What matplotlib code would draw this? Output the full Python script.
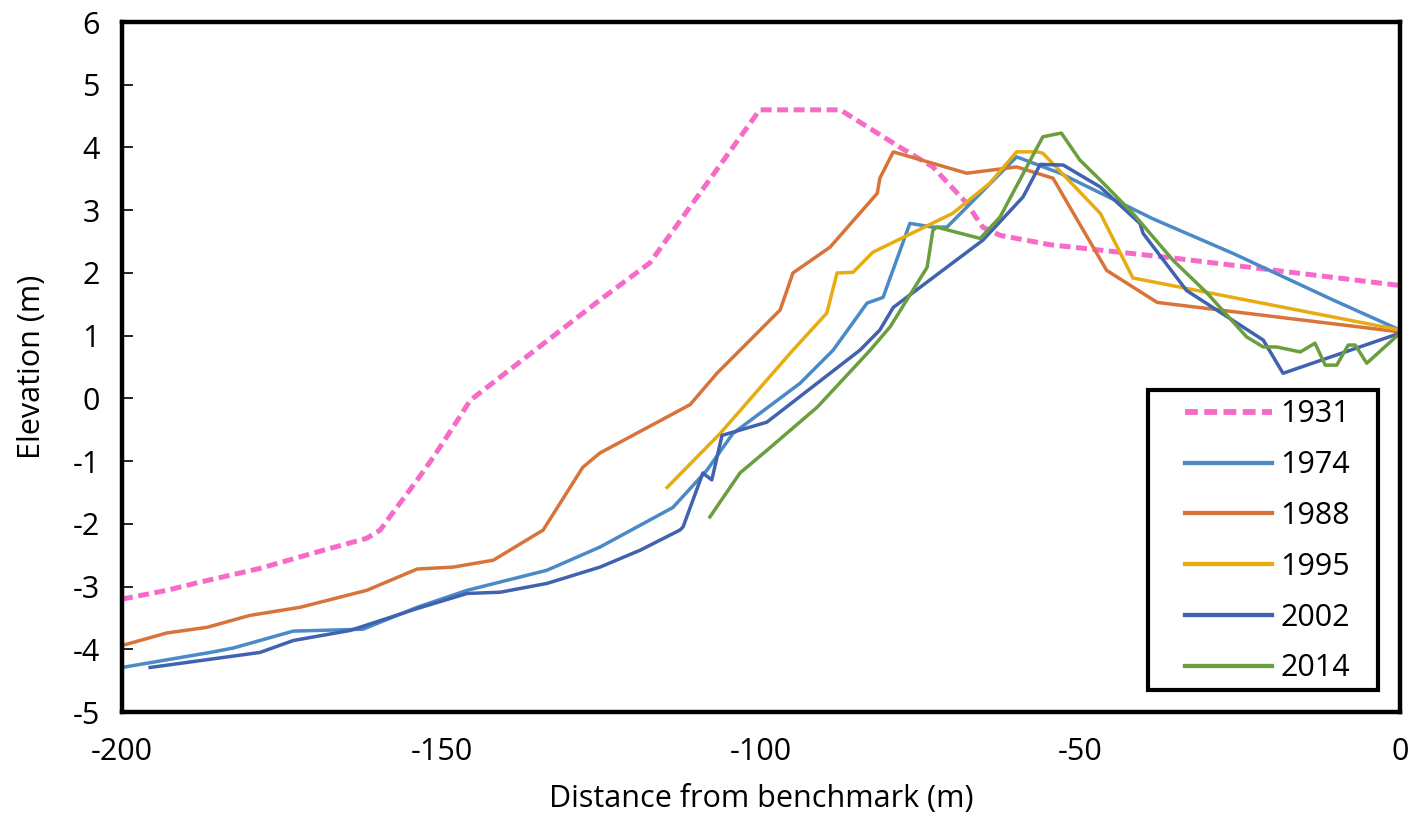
import matplotlib
matplotlib.use("Agg")
import matplotlib.pyplot as plt
from matplotlib.patches import Rectangle

plt.rcParams['font.family'] = ['Open Sans', 'DejaVu Sans']
plt.rcParams['axes.unicode_minus'] = False

years = ["1931", "1974", "1988", "1995", "2002", "2014"]
colors = ["#f76bc8", "#4a8ac6", "#d8733a", "#e6ac12", "#4062b0", "#6a9e3e"]

x_1931 = [-200, -193, -187.8, -178.4, -169.5, -161.7, -159.6, -158.1, -153.8, -151.3, -148.2, -145.5,
          -125.2, -117.4, -100.2, -87.6, -78.2, -73.1, -67.8, -65.3, -62.6, -54.8, -36.5, 0]
y_1931 = [-3.2, -3.06, -2.93, -2.71, -2.45, -2.23, -2.10, -1.89, -1.30, -0.94, -0.46, -0.03,
          1.57, 2.16, 4.6, 4.6, 4.0, 3.69, 3.11, 2.73, 2.6, 2.45, 2.25, 1.8]

x_1974 = [-200, -186.2, -182.6, -173.2, -162.3, -153.8, -146, -133.5, -125.2, -113.8, -108.5, -104.4,
          -100.2, -93.9, -88.7, -83.4, -80.9, -76.7, -73.1, -70.9, -60, -53.2, -38.6, -26.1, -10.5, 0]
y_1974 = [-4.29, -4.05, -3.98, -3.71, -3.68, -3.33, -3.06, -2.74, -2.37, -1.74, -1.15, -0.56,
          -0.24, 0.24, 0.77, 1.52, 1.61, 2.79, 2.73, 2.73, 3.85, 3.59, 2.86, 2.31, 1.57, 1.09]

x_1988 = [-200, -193, -186.7, -180, -172.1, -161.7, -153.8, -148.2, -141.9, -134.1, -127.9, -125.2,
          -111.1, -106.9, -97, -95, -89.2, -81.8, -81.4, -79.3, -67.8, -60, -54.3, -45.9, -38, 0]
y_1988 = [-3.94, -3.74, -3.65, -3.46, -3.33, -3.06, -2.72, -2.69, -2.58, -2.1, -1.1, -0.87,
          -0.1, 0.4, 1.41, 2.0, 2.41, 3.27, 3.51, 3.93, 3.59, 3.69, 3.51, 2.04, 1.53, 1.06]

x_1995 = [-114.7, -106.4, -95, -89.7, -88.1, -85.6, -82.5, -70, -64.2, -60, -56.8, -55.9,
          -46.9, -41.8, 0]
y_1995 = [-1.42, -0.56, 0.77, 1.36, 2.0, 2.01, 2.33, 2.95, 3.43, 3.93, 3.93, 3.91,
          2.95, 1.92, 1.09]

x_2002 = [-195.6, -178.4, -173.2, -164.3, -153.8, -146, -140.8, -133.5, -125.2, -118.9, -112.7,
          -112.2, -109.1, -107.7, -106.1, -99.1, -84.5, -81.4, -79.3, -65.3, -59, -56.3, -52.7,
          -46.9, -40.7, -40.2, -33.4, -21.4, -18.3, 0]
y_2002 = [-4.29, -4.05, -3.86, -3.70, -3.35, -3.11, -3.09, -2.95, -2.69, -2.42, -2.10,
          -2.05, -1.19, -1.30, -0.59, -0.38, 0.77, 1.09, 1.45, 2.52, 3.21, 3.73, 3.72,
          3.37, 2.79, 2.63, 1.72, 0.93, 0.40, 1.04]

x_2014 = [-108, -103.3, -99.1, -91.2, -82.9, -79.8, -74, -73.1, -72.5, -65.7, -62.6, -55.9, -53,
          -50.1, -46.9, -41.8, -35.5, -30.2, -24, -21.4, -19.3, -15.6, -13.3, -11.7, -9.9, -8.1,
          -7.0, -5.2, 0]
y_2014 = [-1.89, -1.19, -0.83, -0.14, 0.77, 1.14, 2.09, 2.68, 2.73, 2.55, 2.89, 4.17, 4.23,
          3.80, 3.48, 2.95, 2.2, 1.68, 0.98, 0.82, 0.82, 0.74, 0.88, 0.53, 0.53, 0.85,
          0.85, 0.56, 1.04]

series = [(x_1931, y_1931), (x_1974, y_1974), (x_1988, y_1988),
          (x_1995, y_1995), (x_2002, y_2002), (x_2014, y_2014)]

fig = plt.figure(figsize=(14.09, 8.22), dpi=100)
ax = fig.add_axes([0.0866, 0.1338, 0.9070, 0.8394])

for i, (xs, ys) in enumerate(series):
    if i == 0:
        ax.plot(xs, ys, color=colors[i], lw=3.6, ls=(0, (2.2, 1.1)), label=years[i])
    else:
        ax.plot(xs, ys, color=colors[i], lw=2.5, label=years[i])

ax.set_xlim(-200, 0)
ax.set_ylim(-5, 6)
ax.set_xticks([-200, -150, -100, -50, 0])
ax.set_yticks(range(-5, 7))
ax.tick_params(axis='y', direction='in', length=8, width=1.2, labelsize=22, pad=16)
ax.tick_params(axis='x', length=0, labelsize=22, pad=18)
for sp in ax.spines.values():
    sp.set_linewidth(3.2)
ax.set_xlabel("Distance from benchmark (m)", fontsize=22, labelpad=12)
ax.set_ylabel("Elevation (m)", fontsize=22, labelpad=18)

# legend box drawn separately (wide side margins like the original)
box = Rectangle((0.803, 0.032), 0.180, 0.435, transform=ax.transAxes,
                facecolor='white', edgecolor='black', lw=3, zorder=4)
ax.add_patch(box)
leg = ax.legend(loc='upper left', bbox_to_anchor=(0.832, 0.453), fontsize=22,
                frameon=False, handlelength=2.85, labelspacing=0.68,
                borderpad=0, handletextpad=0.25, borderaxespad=0)
leg.set_zorder(5)
for h in leg.get_lines():
    h.set_linewidth(h.get_linewidth() + 0.6)

fig.savefig("out.png", dpi=100)
